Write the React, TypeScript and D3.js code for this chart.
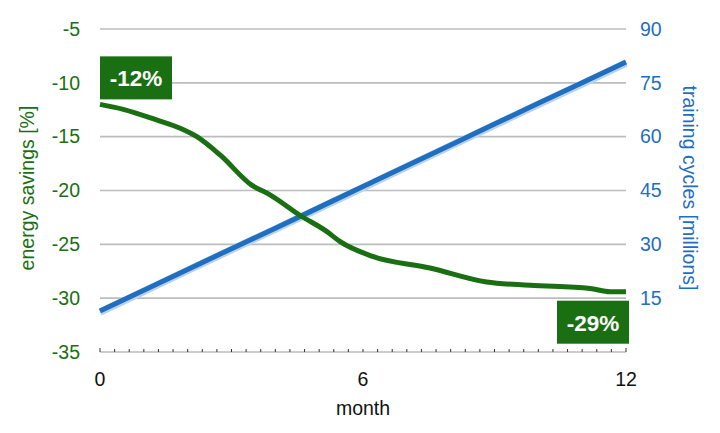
import React, { useEffect, useRef } from 'react';
import * as d3 from 'd3';

// energy savings curve (left axis, %)
const savingsMonths = [0, 0.53, 1.29, 1.83, 2.21, 2.74, 3.46, 3.88, 4.56, 5.17, 5.48, 6.2, 7.53, 8.82, 9.81, 11.18, 11.64, 12];
const savingsValues = [-12.0, -12.46, -13.45, -14.22, -15.0, -16.7, -19.5, -20.4, -22.3, -23.8, -24.75, -26.1, -27.2, -28.5, -28.8, -29.1, -29.4, -29.4];

// training cycles (right axis, millions)
const cycleMonths = [0, 1, 2, 3, 4, 5, 6, 7, 8, 9, 10, 11, 12];
const cycleValues = [11.4, 17.2, 23.0, 28.8, 34.5, 40.3, 46.1, 51.9, 57.7, 63.5, 69.3, 75.0, 80.8];

const leftTicks = [-5, -10, -15, -20, -25, -30, -35];
const rightTicks = [15, 30, 45, 60, 75, 90];
const monthTicks = [0, 6, 12];

const startLabel = '-12%';
const endLabel = '-29%';

const GREEN = '#1a6f12';
const BLUE = '#1f6ebf';
const FONT = '"Liberation Sans", Arial, sans-serif';
const FS = '19.5px';

const App: React.FC = () => {
  const svgRef = useRef<SVGSVGElement>(null);

  useEffect(() => {
    if (!svgRef.current) return;
    const width = 720;
    const height = 433;
    const margin = { top: 29, right: 94, bottom: 81, left: 100 };
    const innerW = width - margin.left - margin.right;
    const innerH = height - margin.top - margin.bottom;

    const svg = d3.select(svgRef.current);
    svg.selectAll('*').remove();
    const g = svg.append('g').attr('transform', `translate(${margin.left},${margin.top})`);

    const x = d3.scaleLinear().domain([0, 12]).range([0, innerW]);
    const yL = d3.scaleLinear().domain([-35, -5]).range([innerH, 0]);
    const yR = d3.scaleLinear().domain([0, 90]).range([innerH, 0]);

    // gridlines
    g.append('g')
      .selectAll('line')
      .data(leftTicks.filter(d => d !== -35))
      .enter()
      .append('line')
      .attr('x1', 0)
      .attr('x2', innerW)
      .attr('y1', d => yL(d))
      .attr('y2', d => yL(d))
      .attr('stroke', '#bdbdbd')
      .attr('stroke-width', 1.6);

    // bottom axis line with minor ticks
    g.append('line')
      .attr('x1', 0)
      .attr('x2', innerW)
      .attr('y1', innerH)
      .attr('y2', innerH)
      .attr('stroke', '#999')
      .attr('stroke-width', 1);

    g.append('g')
      .selectAll('line')
      .data(d3.range(0, 37).map(i => i / 3))
      .enter()
      .append('line')
      .attr('x1', d => x(d))
      .attr('x2', d => x(d))
      .attr('y1', innerH)
      .attr('y2', (d, i) => innerH - (i === 0 || i === 36 ? 4 : 3))
      .attr('stroke', '#333')
      .attr('stroke-width', 1);

    // left tick labels
    g.append('g')
      .selectAll('text')
      .data(leftTicks)
      .enter()
      .append('text')
      .attr('x', -20)
      .attr('y', d => yL(d))
      .attr('dy', '0.35em')
      .attr('text-anchor', 'end')
      .style('font-family', FONT)
      .style('font-size', FS)
      .attr('fill', GREEN)
      .text(d => d);

    // right tick labels
    g.append('g')
      .selectAll('text')
      .data(rightTicks)
      .enter()
      .append('text')
      .attr('x', innerW + 14)
      .attr('y', d => yR(d))
      .attr('dy', '0.35em')
      .attr('text-anchor', 'start')
      .style('font-family', FONT)
      .style('font-size', FS)
      .attr('fill', BLUE)
      .text(d => d);

    // month labels
    g.append('g')
      .selectAll('text')
      .data(monthTicks)
      .enter()
      .append('text')
      .attr('x', d => x(d))
      .attr('y', innerH + 27)
      .attr('dy', '0.35em')
      .attr('text-anchor', 'middle')
      .style('font-family', FONT)
      .style('font-size', FS)
      .attr('fill', '#111')
      .text(d => d);

    svg.append('text')
      .attr('x', margin.left + x(6))
      .attr('y', 408)
      .attr('dy', '0.35em')
      .attr('text-anchor', 'middle')
      .style('font-family', FONT)
      .style('font-size', FS)
      .attr('fill', '#111')
      .text('month');

    svg.append('text')
      .attr('transform', 'translate(27,188) rotate(-90)')
      .attr('dy', '0.35em')
      .attr('text-anchor', 'middle')
      .style('font-family', FONT)
      .style('font-size', FS)
      .attr('fill', GREEN)
      .text('energy savings [%]');

    svg.append('text')
      .attr('transform', 'translate(690,188) rotate(90)')
      .attr('dy', '0.35em')
      .attr('text-anchor', 'middle')
      .style('font-family', FONT)
      .style('font-size', FS)
      .attr('fill', BLUE)
      .text('training cycles [millions]');

    // blue line with soft halo
    const cycles = cycleMonths.map((m, i) => ({ m, v: cycleValues[i] }));
    const blueLine = d3.line<{ m: number; v: number }>().x(d => x(d.m)).y(d => yR(d.v));
    g.append('path')
      .datum(cycles)
      .attr('d', blueLine)
      .attr('fill', 'none')
      .attr('stroke', '#b9d3ee')
      .attr('stroke-width', 7.5)
      .attr('transform', 'translate(0,1)');
    g.append('path')
      .datum(cycles)
      .attr('d', blueLine)
      .attr('fill', 'none')
      .attr('stroke', BLUE)
      .attr('stroke-width', 5);

    // green line
    const savings = savingsMonths.map((m, i) => ({ m, v: savingsValues[i] }));
    const greenLine = d3.line<{ m: number; v: number }>()
      .x(d => x(d.m))
      .y(d => yL(d.v))
      .curve(d3.curveMonotoneX);
    g.append('path')
      .datum(savings)
      .attr('d', greenLine)
      .attr('fill', 'none')
      .attr('stroke', GREEN)
      .attr('stroke-width', 5)
      .attr('stroke-linejoin', 'round');

    // value boxes
    const first = savings[0];
    const last = savings[savings.length - 1];
    const boxes = [
      { label: startLabel, x0: x(first.m), y0: yL(first.v) - 48 },
      { label: endLabel, x0: x(last.m) - 69, y0: yL(last.v) + 9 },
    ];
    boxes.forEach(b => {
      g.append('rect')
        .attr('x', b.x0)
        .attr('y', b.y0)
        .attr('width', 72)
        .attr('height', 43)
        .attr('fill', GREEN);
      g.append('text')
        .attr('x', b.x0 + 36)
        .attr('y', b.y0 + 22)
        .attr('dy', '0.35em')
        .attr('text-anchor', 'middle')
        .style('font-family', FONT)
        .style('font-size', '22.5px')
        .style('font-weight', 'bold')
        .attr('fill', '#fff')
        .text(b.label);
    });
  }, []);

  return (
    <svg
      ref={svgRef}
      width={720}
      height={433}
      style={{ position: 'absolute', left: 0, top: 0, background: '#fff' }}
    />
  );
};

export default App;
